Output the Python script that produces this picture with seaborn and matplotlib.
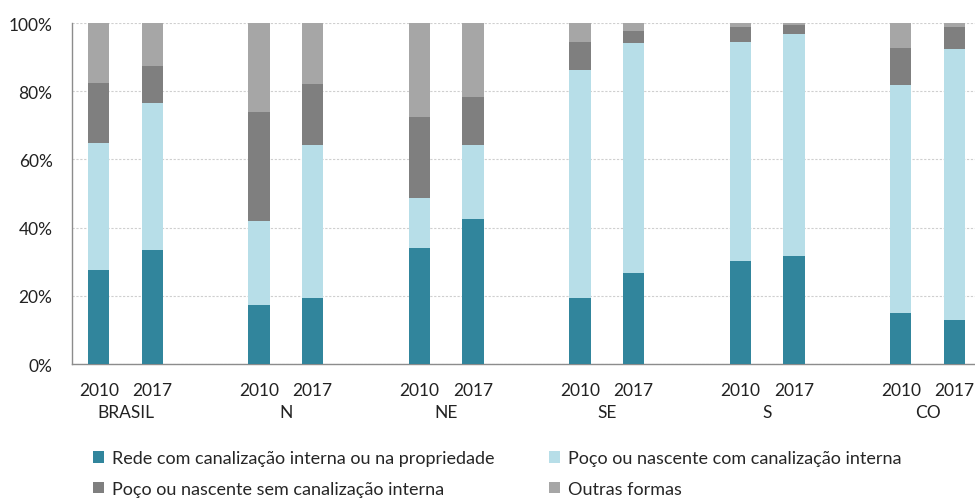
import pandas as pd
import matplotlib.pyplot as plt
import seaborn as sns
import numpy as np
from matplotlib.ticker import PercentFormatter
from matplotlib.patches import Patch
import matplotlib.transforms as mtransforms

regioes = ["BRASIL", "N", "NE", "SE", "S", "CO"]
anos = ["2010", "2017"]

# % de domicilios por forma de abastecimento (2010, 2017 para cada regiao)
rede = [27.5, 33.3, 17.3, 19.4, 34.0, 42.6, 19.4, 26.7, 30.2, 31.6, 15.1, 13.0]
poco_com = [37.2, 43.3, 24.5, 44.8, 14.7, 21.6, 66.8, 67.4, 64.1, 65.1, 66.8, 79.3]
poco_sem = [17.7, 10.9, 32.2, 17.9, 23.6, 14.2, 8.3, 3.6, 4.6, 2.8, 10.9, 6.5]
outras = [17.6, 12.5, 26.0, 17.9, 27.7, 21.6, 5.5, 2.3, 1.1, 0.5, 7.2, 1.2]

series = ["Rede com canalização interna ou na propriedade",
          "Poço ou nascente com canalização interna",
          "Poço ou nascente sem canalização interna",
          "Outras formas"]
cores = ["#31859C", "#B7DEE8", "#7F7F7F", "#A6A6A6"]

chaves = [r + "|" + a for r in regioes for a in anos]
df = pd.DataFrame({"chave": chaves, "rede": rede, "poco_com": poco_com,
                   "poco_sem": poco_sem, "outras": outras})
cols = ["rede", "poco_com", "poco_sem", "outras"]
acum = df[cols].cumsum(axis=1)

# ordem com espacos vazios entre regioes
ordem = []
for i, r in enumerate(regioes):
    ordem += [r + "|2010", r + "|2017"]
    if i < len(regioes) - 1:
        ordem.append("vazio%d" % i)

sns.set_style("white")
plt.rcParams["font.family"] = ["Lato", "DejaVu Sans"]

fig = plt.figure(figsize=(9.75, 5.02), dpi=100)
ax = fig.add_axes([72 / 975, 1 - 365 / 502, 909 / 975, 341 / 502])

# desenha do topo para baixo (acumulado)
for k in range(3, -1, -1):
    sns.barplot(x=df["chave"], y=acum[cols[k]], order=ordem, color=cores[k],
                saturation=1, width=0.4, ax=ax, linewidth=0, zorder=3)

ax.set_ylim(0, 100)
ax.set_xlim(-0.5, len(ordem) - 0.5)
ax.yaxis.set_major_formatter(PercentFormatter(decimals=0))
ax.set_yticks(np.arange(0, 101, 20))
ax.grid(axis="y", color="#CFCFCF", linestyle=(0, (2, 1.5)), linewidth=0.8, zorder=0)
ax.set_xlabel("")
ax.set_ylabel("")

for s in ["top", "right"]:
    ax.spines[s].set_visible(False)
for s in ["left", "bottom"]:
    ax.spines[s].set_color("#8C8C8C")
    ax.spines[s].set_linewidth(1)

# marcas do eixo x nas fronteiras das categorias
ax.set_xticks(np.arange(-0.5, len(ordem), 1))
ax.set_xticklabels([])
ax.tick_params(axis="x", which="major", length=6, color="#8C8C8C", width=1)
ax.tick_params(axis="y", length=0, labelsize=12.5, pad=14, colors="#222222")

pos_anos = [i for i, c in enumerate(ordem) if "|" in c]
ax.set_xticks(pos_anos, minor=True)
ax.set_xticklabels([ordem[i].split("|")[1] for i in pos_anos], minor=True)
ax.tick_params(axis="x", which="minor", length=0, labelsize=12.5, pad=13, colors="#222222")

trans = mtransforms.blended_transform_factory(ax.transData, ax.transAxes)
for i, r in enumerate(regioes):
    ax.text(3 * i + 0.5, -0.14, r, transform=trans, ha="center", va="center",
            fontsize=12.5, color="#222222")

# legenda preenchida por linhas (matplotlib preenche por colunas)
idx = [0, 2, 1, 3]
handles = [Patch(facecolor=cores[i], edgecolor="none") for i in idx]
labels = [series[i] for i in idx]
fig.legend(handles, labels, loc="upper left", bbox_to_anchor=(88 / 975, 1 - 446 / 502),
           ncol=2, frameon=False, handlelength=0.6, handleheight=0.6,
           handletextpad=0.45, columnspacing=3.0, labelspacing=0.8,
           borderaxespad=0, borderpad=0.3,
           prop={"family": ["Lato", "DejaVu Sans"], "size": 13})

fig.savefig("out.png", dpi=100)
